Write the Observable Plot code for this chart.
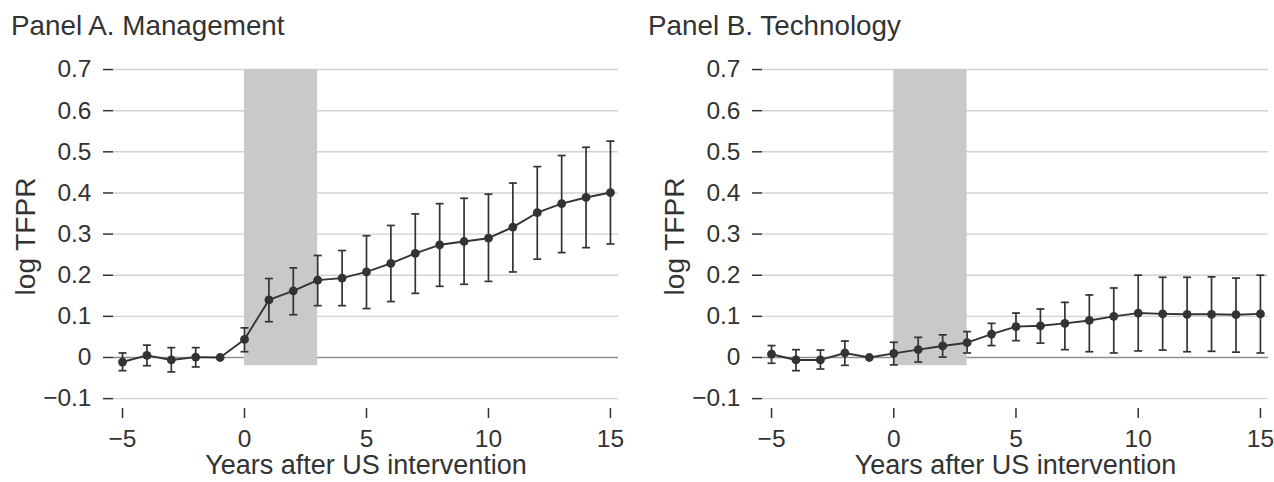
<!DOCTYPE html>
<html>
<head>
<meta charset="utf-8">
<script src="https://cdn.jsdelivr.net/npm/d3@7"></script>
<script src="https://cdn.jsdelivr.net/npm/@observablehq/plot@0.6"></script>
<style>
  html, body { margin: 0; padding: 0; background: #fff; }
  #wrap { position: relative; width: 1274px; height: 482px; overflow: hidden; font-family: "Liberation Sans", Arial, Helvetica, sans-serif; color: #333; }
  .title { position: absolute; top: 12px; font-size: 27.8px; line-height: 28px; white-space: nowrap; color: #333; }
  .panel { position: absolute; top: 50px; }
</style>
</head>
<body>
<div id="wrap">
  <div class="title" id="titleA" style="left:11px"></div>
  <div class="title" id="titleB" style="left:648px"></div>
  <div class="panel" id="panelA" style="left:0px"></div>
  <div class="panel" id="panelB" style="left:649px"></div>
</div>
<script>
// ---- data ----
const panelTitles = ["Panel A. Management", "Panel B. Technology"];
const yLabel = "log TFPR";
const xLabel = "Years after US intervention";
const years = [-5, -4, -3, -2, -1, 0, 1, 2, 3, 4, 5, 6, 7, 8, 9, 10, 11, 12, 13, 14, 15];

const mgmtEst = [-0.011, 0.005, -0.006, 0.001, 0, 0.044, 0.140, 0.162, 0.188, 0.193, 0.208, 0.229, 0.253, 0.274, 0.282, 0.290, 0.317, 0.352, 0.374, 0.389, 0.401];
const mgmtLo  = [-0.032, -0.020, -0.035, -0.023, null, 0.014, 0.087, 0.104, 0.126, 0.126, 0.119, 0.136, 0.156, 0.173, 0.178, 0.185, 0.208, 0.239, 0.255, 0.267, 0.276];
const mgmtHi  = [0.011, 0.030, 0.024, 0.024, null, 0.072, 0.192, 0.218, 0.248, 0.260, 0.296, 0.321, 0.349, 0.374, 0.387, 0.397, 0.424, 0.464, 0.491, 0.511, 0.526];

const techEst = [0.008, -0.006, -0.006, 0.011, 0, 0.010, 0.019, 0.028, 0.036, 0.057, 0.075, 0.077, 0.083, 0.090, 0.100, 0.108, 0.106, 0.105, 0.105, 0.104, 0.106];
const techLo  = [-0.014, -0.032, -0.028, -0.019, null, -0.018, -0.011, 0.001, 0.011, 0.029, 0.041, 0.035, 0.019, 0.014, 0.011, 0.016, 0.018, 0.014, 0.015, 0.013, 0.011];
const techHi  = [0.029, 0.019, 0.018, 0.040, null, 0.037, 0.049, 0.055, 0.063, 0.083, 0.108, 0.118, 0.134, 0.152, 0.169, 0.200, 0.195, 0.195, 0.196, 0.193, 0.200];

// shaded period (x from 0 to 3, y from -0.02 to 0.7)
const shadeX = [0, 3];
const shadeY = [-0.02, 0.7];

const xTicks = [-5, 0, 5, 10, 15];
const yTicks = [-0.1, 0, 0.1, 0.2, 0.3, 0.4, 0.5, 0.6, 0.7];
const xDomain = [-5.37, 15.33];
const yDomain = [-0.124, 0.722];

// ---- drawing ----
const ink = "#333333";
const capSymbol = {
  draw(context, size) {
    const w = Math.sqrt(size / Math.PI);
    context.moveTo(-w, 0);
    context.lineTo(w, 0);
  }
};
const fmtY = d => d === 0 ? "0" : d3.format(".1f")(d);

function makePanel(est, lo, hi, width, marginRight) {
  const rows = years.map((x, i) => ({x, est: est[i], lo: lo[i], hi: hi[i]}));
  const ci = rows.filter(d => d.lo != null && d.hi != null);
  const shade = [{x1: shadeX[0], x2: shadeX[1], y1: shadeY[0], y2: shadeY[1]}];
  return Plot.plot({
    width,
    height: 432,
    marginLeft: 113,
    marginRight,
    marginTop: 10,
    marginBottom: 74,
    style: {fontFamily: '"Liberation Sans", Arial, Helvetica, sans-serif', fontSize: "24.5px", color: ink, background: "transparent", overflow: "visible"},
    x: {domain: xDomain},
    y: {domain: yDomain},
    marks: [
      Plot.ruleY(yTicks.filter(t => t !== 0), {stroke: "#d2d2d2", strokeWidth: 1.4}),
      Plot.ruleY([0], {stroke: "#8f8f8f", strokeWidth: 1.4}),
      Plot.rect(shade, {x1: "x1", x2: "x2", y1: "y1", y2: "y2", fill: "#c8c9cb"}),
      Plot.ruleX(ci, {x: "x", y1: "lo", y2: "hi", stroke: ink, strokeWidth: 1.7}),
      Plot.dot(ci, {x: "x", y: "lo", symbol: capSymbol, r: 4, stroke: ink, strokeWidth: 1.7, fill: "none"}),
      Plot.dot(ci, {x: "x", y: "hi", symbol: capSymbol, r: 4, stroke: ink, strokeWidth: 1.7, fill: "none"}),
      Plot.line(rows, {x: "x", y: "est", stroke: ink, strokeWidth: 1.9}),
      Plot.dot(rows, {x: "x", y: "est", r: 4.4, fill: ink, stroke: "none"}),
      Plot.axisY({ticks: yTicks, tickFormat: fmtY, tickSize: 10, tickPadding: 12, line: true, label: null, strokeWidth: 1.5, fontSize: 24.5, fill: ink}),
      Plot.axisX({ticks: xTicks, tickSize: 10, tickPadding: 11, line: true, label: null, strokeWidth: 1.5, fontSize: 24.5, fill: ink}),
      Plot.text([yLabel], {text: d => d, frameAnchor: "left", textAnchor: "middle", lineAnchor: "middle", rotate: -90, dx: -87, dy: 2, fontSize: 28, fill: ink}),
      Plot.text([xLabel], {text: d => d, frameAnchor: "bottom", textAnchor: "middle", lineAnchor: "middle", dy: 57, fontSize: 27, fill: ink})
    ]
  });
}

document.getElementById("titleA").textContent = panelTitles[0];
document.getElementById("titleB").textContent = panelTitles[1];
document.getElementById("panelA").appendChild(makePanel(mgmtEst, mgmtLo, mgmtHi, 650, 32));
document.getElementById("panelB").appendChild(makePanel(techEst, techLo, techHi, 625, 6));
</script>
</body>
</html>
